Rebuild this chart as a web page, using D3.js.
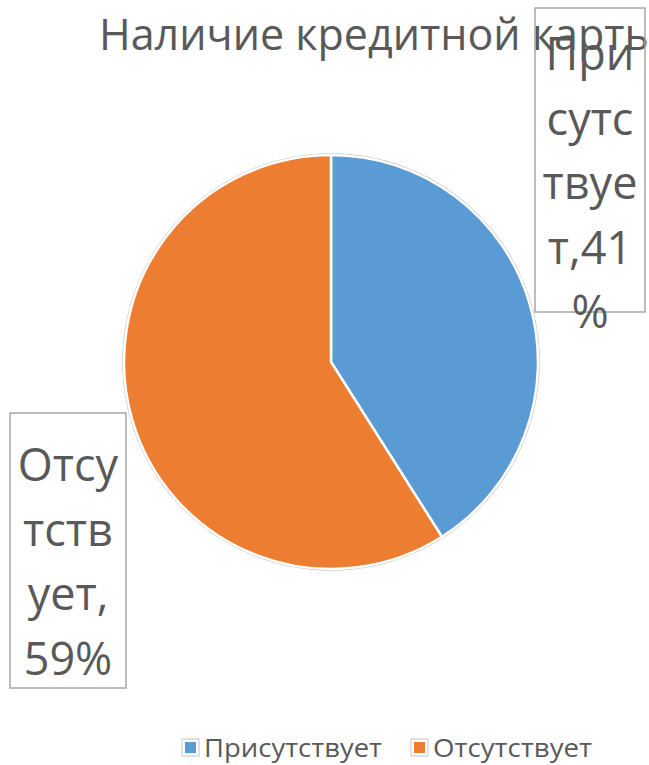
<!DOCTYPE html>
<html><head><meta charset="utf-8">
<script src="https://cdn.jsdelivr.net/npm/d3@7"></script>
<style>body{margin:0;background:#fff;} svg{display:block;font-family:"Open Sans",sans-serif;}</style>
</head><body>
<svg id="c" width="649" height="765"></svg>
<script>
const title = "Наличие кредитной карты";
const categories = ["Присутствует", "Отсутствует"];
const values = [41, 59];
const colors = ["#5B9BD5", "#ED7D31"];
const labelLines = [["При", "сутс", "твуе", "т,41", "%"], ["Отсу", "тств", "ует,", "59%"]];

const svg = d3.select("#c");
const cx = 331, cy = 362, r = 207;

svg.append("text").attr("x", 99).attr("y", 50).attr("font-size", 43)
  .attr("fill", "#595959").text(title);

const pie = d3.pie().sort(null).value(d => d)(values);
const arc = d3.arc().innerRadius(0).outerRadius(r);
const g = svg.append("g").attr("transform", `translate(${cx},${cy})`);
g.append("circle").attr("r", r + 1).attr("fill", "none").attr("stroke", "#BFBFBF").attr("stroke-width", 1.5);
g.selectAll("path").data(pie).join("path").attr("d", arc)
  .attr("fill", (d, i) => colors[i]).attr("stroke", "#fff").attr("stroke-width", 2.5);

// data labels
const boxes = [{x: 535, y: 8, w: 110, h: 304, tx: 590, ty: 70}, {x: 10, y: 413, w: 116, h: 275, tx: 68, ty: 481}];
boxes.forEach((b, i) => {
  svg.append("rect").attr("x", b.x).attr("y", b.y).attr("width", b.w).attr("height", b.h)
    .attr("fill", "none").attr("stroke", "#A6A6A6").attr("stroke-width", 1.5);
  const t = svg.append("text").attr("font-size", 45).attr("fill", "#595959").attr("text-anchor", "middle");
  labelLines[i].forEach((ln, j) => t.append("tspan").attr("x", b.tx).attr("y", b.ty + j * 64.5).text(ln));
});

// legend
const leg = [{sx: 182, tx: 204, tl: 178}, {sx: 411, tx: 433, tl: 159}];
categories.forEach((c, i) => {
  svg.append("rect").attr("x", leg[i].sx).attr("y", 739).attr("width", 17).attr("height", 17)
    .attr("fill", "#fff").attr("stroke", "#D9D9D9").attr("stroke-width", 1.5);
  svg.append("rect").attr("x", leg[i].sx + 3).attr("y", 742).attr("width", 11).attr("height", 11)
    .attr("fill", colors[i]);
  svg.append("text").attr("x", leg[i].tx).attr("y", 757).attr("font-size", 25)
    .attr("textLength", leg[i].tl).attr("lengthAdjust", "spacingAndGlyphs")
    .attr("fill", "#595959").text(c);
});
</script>
</body></html>
